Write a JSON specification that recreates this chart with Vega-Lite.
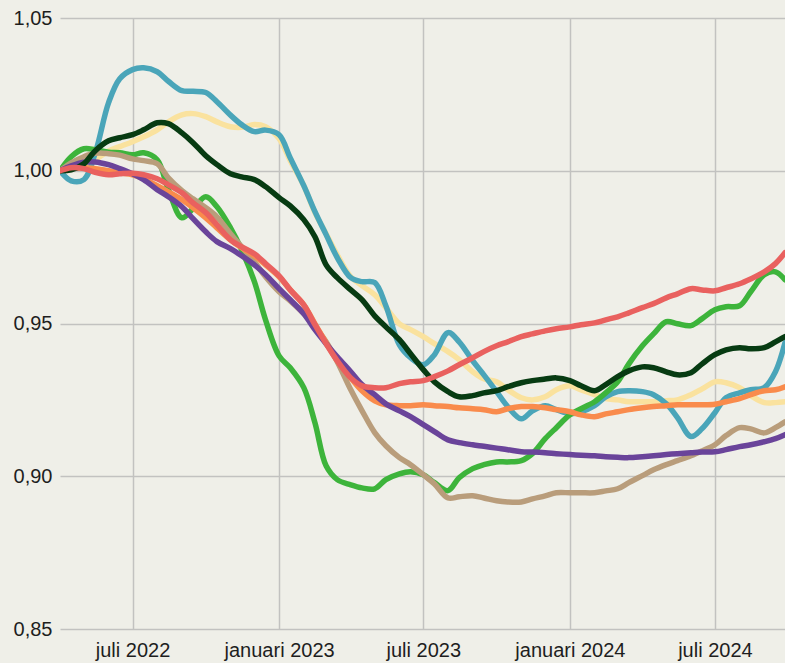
{
"$schema": "https://vega.github.io/schema/vega-lite/v6.json",
"width": 725,
"height": 611,
"autosize": "none",
"padding": {"left": 60, "top": 18, "right": 0, "bottom": 34},
"background": "#efefe8",
"config": {"view": {"stroke": null}},
"data": {
"format": {"parse": {"d": "utc:'%Y-%m-%d'"}},
"values": [
{"d":"2022-04-01","s":"geel","v":1.0000},{"d":"2022-04-15","s":"geel","v":1.0010},{"d":"2022-05-01","s":"geel","v":1.0020},{"d":"2022-05-15","s":"geel","v":1.0036},{"d":"2022-06-01","s":"geel","v":1.0065},{"d":"2022-06-15","s":"geel","v":1.0079},{"d":"2022-07-01","s":"geel","v":1.0095},{"d":"2022-07-15","s":"geel","v":1.0111},{"d":"2022-08-01","s":"geel","v":1.0134},{"d":"2022-08-15","s":"geel","v":1.0160},
{"d":"2022-09-01","s":"geel","v":1.0183},{"d":"2022-09-15","s":"geel","v":1.0187},{"d":"2022-10-01","s":"geel","v":1.0177},{"d":"2022-10-15","s":"geel","v":1.0160},{"d":"2022-11-01","s":"geel","v":1.0144},{"d":"2022-11-15","s":"geel","v":1.0142},{"d":"2022-12-01","s":"geel","v":1.0151},{"d":"2022-12-15","s":"geel","v":1.0144},{"d":"2023-01-01","s":"geel","v":1.0105},{"d":"2023-01-15","s":"geel","v":1.0033},
{"d":"2023-02-01","s":"geel","v":0.9951},{"d":"2023-02-15","s":"geel","v":0.9863},{"d":"2023-03-01","s":"geel","v":0.9794},{"d":"2023-03-15","s":"geel","v":0.9725},{"d":"2023-04-01","s":"geel","v":0.9653},{"d":"2023-04-15","s":"geel","v":0.9624},{"d":"2023-05-01","s":"geel","v":0.9594},{"d":"2023-05-15","s":"geel","v":0.9552},{"d":"2023-06-01","s":"geel","v":0.9499},{"d":"2023-06-15","s":"geel","v":0.9480},
{"d":"2023-07-01","s":"geel","v":0.9457},{"d":"2023-07-15","s":"geel","v":0.9434},{"d":"2023-08-01","s":"geel","v":0.9408},{"d":"2023-08-15","s":"geel","v":0.9382},{"d":"2023-09-01","s":"geel","v":0.9342},{"d":"2023-09-15","s":"geel","v":0.9319},{"d":"2023-10-01","s":"geel","v":0.9309},{"d":"2023-10-15","s":"geel","v":0.9283},{"d":"2023-11-01","s":"geel","v":0.9257},{"d":"2023-11-15","s":"geel","v":0.9250},
{"d":"2023-12-01","s":"geel","v":0.9260},{"d":"2023-12-15","s":"geel","v":0.9283},{"d":"2024-01-01","s":"geel","v":0.9296},{"d":"2024-01-15","s":"geel","v":0.9283},{"d":"2024-02-01","s":"geel","v":0.9267},{"d":"2024-02-15","s":"geel","v":0.9254},{"d":"2024-03-01","s":"geel","v":0.9250},{"d":"2024-03-15","s":"geel","v":0.9244},{"d":"2024-04-01","s":"geel","v":0.9244},{"d":"2024-04-15","s":"geel","v":0.9244},
{"d":"2024-05-01","s":"geel","v":0.9247},{"d":"2024-05-15","s":"geel","v":0.9250},{"d":"2024-06-01","s":"geel","v":0.9267},{"d":"2024-06-15","s":"geel","v":0.9286},{"d":"2024-07-01","s":"geel","v":0.9309},{"d":"2024-07-15","s":"geel","v":0.9306},{"d":"2024-08-01","s":"geel","v":0.9290},{"d":"2024-08-15","s":"geel","v":0.9264},{"d":"2024-09-01","s":"geel","v":0.9241},{"d":"2024-09-15","s":"geel","v":0.9241},{"d":"2024-09-27","s":"geel","v":0.9244},

{"d":"2022-04-01","s":"blauw","v":1.0000},{"d":"2022-04-15","s":"blauw","v":0.9967},{"d":"2022-05-01","s":"blauw","v":0.9971},{"d":"2022-05-15","s":"blauw","v":1.0056},{"d":"2022-06-01","s":"blauw","v":1.0223},{"d":"2022-06-15","s":"blauw","v":1.0301},{"d":"2022-07-01","s":"blauw","v":1.0331},{"d":"2022-07-15","s":"blauw","v":1.0337},{"d":"2022-08-01","s":"blauw","v":1.0324},{"d":"2022-08-15","s":"blauw","v":1.0293},
{"d":"2022-09-01","s":"blauw","v":1.0262},{"d":"2022-09-15","s":"blauw","v":1.0260},{"d":"2022-10-01","s":"blauw","v":1.0256},{"d":"2022-10-15","s":"blauw","v":1.0226},{"d":"2022-11-01","s":"blauw","v":1.0182},{"d":"2022-11-15","s":"blauw","v":1.0151},{"d":"2022-12-01","s":"blauw","v":1.0128},{"d":"2022-12-15","s":"blauw","v":1.0133},{"d":"2023-01-01","s":"blauw","v":1.0118},{"d":"2023-01-15","s":"blauw","v":1.0042},
{"d":"2023-02-01","s":"blauw","v":0.9951},{"d":"2023-02-15","s":"blauw","v":0.9866},{"d":"2023-03-01","s":"blauw","v":0.9791},{"d":"2023-03-15","s":"blauw","v":0.9716},{"d":"2023-04-01","s":"blauw","v":0.9650},{"d":"2023-04-15","s":"blauw","v":0.9637},{"d":"2023-05-01","s":"blauw","v":0.9634},{"d":"2023-05-15","s":"blauw","v":0.9558},{"d":"2023-06-01","s":"blauw","v":0.9430},{"d":"2023-06-15","s":"blauw","v":0.9388},
{"d":"2023-07-01","s":"blauw","v":0.9365},{"d":"2023-07-15","s":"blauw","v":0.9398},{"d":"2023-08-01","s":"blauw","v":0.9470},{"d":"2023-08-15","s":"blauw","v":0.9440},{"d":"2023-09-01","s":"blauw","v":0.9378},{"d":"2023-09-15","s":"blauw","v":0.9332},{"d":"2023-10-01","s":"blauw","v":0.9277},{"d":"2023-10-15","s":"blauw","v":0.9228},{"d":"2023-11-01","s":"blauw","v":0.9188},{"d":"2023-11-15","s":"blauw","v":0.9214},
{"d":"2023-12-01","s":"blauw","v":0.9231},{"d":"2023-12-15","s":"blauw","v":0.9218},{"d":"2024-01-01","s":"blauw","v":0.9205},{"d":"2024-01-15","s":"blauw","v":0.9211},{"d":"2024-02-01","s":"blauw","v":0.9231},{"d":"2024-02-15","s":"blauw","v":0.9260},{"d":"2024-03-01","s":"blauw","v":0.9277},{"d":"2024-03-15","s":"blauw","v":0.9280},{"d":"2024-04-01","s":"blauw","v":0.9277},{"d":"2024-04-15","s":"blauw","v":0.9267},
{"d":"2024-05-01","s":"blauw","v":0.9237},{"d":"2024-05-15","s":"blauw","v":0.9192},{"d":"2024-06-01","s":"blauw","v":0.9130},{"d":"2024-06-15","s":"blauw","v":0.9156},{"d":"2024-07-01","s":"blauw","v":0.9208},{"d":"2024-07-15","s":"blauw","v":0.9257},{"d":"2024-08-01","s":"blauw","v":0.9273},{"d":"2024-08-15","s":"blauw","v":0.9283},{"d":"2024-09-01","s":"blauw","v":0.9290},{"d":"2024-09-15","s":"blauw","v":0.9342},{"d":"2024-09-27","s":"blauw","v":0.9437},

{"d":"2022-04-01","s":"groen","v":1.0000},{"d":"2022-04-15","s":"groen","v":1.0046},{"d":"2022-05-01","s":"groen","v":1.0072},{"d":"2022-05-15","s":"groen","v":1.0069},{"d":"2022-06-01","s":"groen","v":1.0061},{"d":"2022-06-15","s":"groen","v":1.0059},{"d":"2022-07-01","s":"groen","v":1.0052},{"d":"2022-07-15","s":"groen","v":1.0059},{"d":"2022-08-01","s":"groen","v":1.0036},{"d":"2022-08-15","s":"groen","v":0.9938},
{"d":"2022-09-01","s":"groen","v":0.9846},{"d":"2022-09-15","s":"groen","v":0.9876},{"d":"2022-10-01","s":"groen","v":0.9915},{"d":"2022-10-15","s":"groen","v":0.9882},{"d":"2022-11-01","s":"groen","v":0.9813},{"d":"2022-11-15","s":"groen","v":0.9741},{"d":"2022-12-01","s":"groen","v":0.9637},{"d":"2022-12-15","s":"groen","v":0.9512},{"d":"2023-01-01","s":"groen","v":0.9394},{"d":"2023-01-15","s":"groen","v":0.9355},
{"d":"2023-02-01","s":"groen","v":0.9290},{"d":"2023-02-15","s":"groen","v":0.9175},{"d":"2023-03-01","s":"groen","v":0.9034},{"d":"2023-03-15","s":"groen","v":0.8989},{"d":"2023-04-01","s":"groen","v":0.8972},{"d":"2023-04-15","s":"groen","v":0.8962},{"d":"2023-05-01","s":"groen","v":0.8959},{"d":"2023-05-15","s":"groen","v":0.8989},{"d":"2023-06-01","s":"groen","v":0.9008},{"d":"2023-06-15","s":"groen","v":0.9015},
{"d":"2023-07-01","s":"groen","v":0.9005},{"d":"2023-07-15","s":"groen","v":0.8979},{"d":"2023-08-01","s":"groen","v":0.8953},{"d":"2023-08-15","s":"groen","v":0.8995},{"d":"2023-09-01","s":"groen","v":0.9025},{"d":"2023-09-15","s":"groen","v":0.9038},{"d":"2023-10-01","s":"groen","v":0.9047},{"d":"2023-10-15","s":"groen","v":0.9047},{"d":"2023-11-01","s":"groen","v":0.9051},{"d":"2023-11-15","s":"groen","v":0.9074},
{"d":"2023-12-01","s":"groen","v":0.9123},{"d":"2023-12-15","s":"groen","v":0.9159},{"d":"2024-01-01","s":"groen","v":0.9201},{"d":"2024-01-15","s":"groen","v":0.9221},{"d":"2024-02-01","s":"groen","v":0.9244},{"d":"2024-02-15","s":"groen","v":0.9273},{"d":"2024-03-01","s":"groen","v":0.9309},{"d":"2024-03-15","s":"groen","v":0.9368},{"d":"2024-04-01","s":"groen","v":0.9427},{"d":"2024-04-15","s":"groen","v":0.9466},
{"d":"2024-05-01","s":"groen","v":0.9506},{"d":"2024-05-15","s":"groen","v":0.9499},{"d":"2024-06-01","s":"groen","v":0.9493},{"d":"2024-06-15","s":"groen","v":0.9516},{"d":"2024-07-01","s":"groen","v":0.9545},{"d":"2024-07-15","s":"groen","v":0.9555},{"d":"2024-08-01","s":"groen","v":0.9558},{"d":"2024-08-15","s":"groen","v":0.9604},{"d":"2024-09-01","s":"groen","v":0.9660},{"d":"2024-09-15","s":"groen","v":0.9669},{"d":"2024-09-27","s":"groen","v":0.9643},

{"d":"2022-04-01","s":"beige","v":1.0000},{"d":"2022-04-15","s":"beige","v":1.0026},{"d":"2022-05-01","s":"beige","v":1.0046},{"d":"2022-05-15","s":"beige","v":1.0057},{"d":"2022-06-01","s":"beige","v":1.0056},{"d":"2022-06-15","s":"beige","v":1.0051},{"d":"2022-07-01","s":"beige","v":1.0039},{"d":"2022-07-15","s":"beige","v":1.0033},{"d":"2022-08-01","s":"beige","v":1.0023},{"d":"2022-08-15","s":"beige","v":0.9977},
{"d":"2022-09-01","s":"beige","v":0.9935},{"d":"2022-09-15","s":"beige","v":0.9908},{"d":"2022-10-01","s":"beige","v":0.9879},{"d":"2022-10-15","s":"beige","v":0.9849},{"d":"2022-11-01","s":"beige","v":0.9794},{"d":"2022-11-15","s":"beige","v":0.9751},{"d":"2022-12-01","s":"beige","v":0.9702},{"d":"2022-12-15","s":"beige","v":0.9653},{"d":"2023-01-01","s":"beige","v":0.9604},{"d":"2023-01-15","s":"beige","v":0.9574},
{"d":"2023-02-01","s":"beige","v":0.9532},{"d":"2023-02-15","s":"beige","v":0.9489},{"d":"2023-03-01","s":"beige","v":0.9440},{"d":"2023-03-15","s":"beige","v":0.9375},{"d":"2023-04-01","s":"beige","v":0.9283},{"d":"2023-04-15","s":"beige","v":0.9215},{"d":"2023-05-01","s":"beige","v":0.9143},{"d":"2023-05-15","s":"beige","v":0.9100},{"d":"2023-06-01","s":"beige","v":0.9061},{"d":"2023-06-15","s":"beige","v":0.9038},
{"d":"2023-07-01","s":"beige","v":0.9005},{"d":"2023-07-15","s":"beige","v":0.8975},{"d":"2023-08-01","s":"beige","v":0.8929},{"d":"2023-08-15","s":"beige","v":0.8933},{"d":"2023-09-01","s":"beige","v":0.8936},{"d":"2023-09-15","s":"beige","v":0.8929},{"d":"2023-10-01","s":"beige","v":0.8920},{"d":"2023-10-15","s":"beige","v":0.8916},{"d":"2023-11-01","s":"beige","v":0.8916},{"d":"2023-11-15","s":"beige","v":0.8926},
{"d":"2023-12-01","s":"beige","v":0.8936},{"d":"2023-12-15","s":"beige","v":0.8946},{"d":"2024-01-01","s":"beige","v":0.8946},{"d":"2024-01-15","s":"beige","v":0.8946},{"d":"2024-02-01","s":"beige","v":0.8946},{"d":"2024-02-15","s":"beige","v":0.8952},{"d":"2024-03-01","s":"beige","v":0.8959},{"d":"2024-03-15","s":"beige","v":0.8979},{"d":"2024-04-01","s":"beige","v":0.9002},{"d":"2024-04-15","s":"beige","v":0.9021},
{"d":"2024-05-01","s":"beige","v":0.9038},{"d":"2024-05-15","s":"beige","v":0.9051},{"d":"2024-06-01","s":"beige","v":0.9067},{"d":"2024-06-15","s":"beige","v":0.9083},{"d":"2024-07-01","s":"beige","v":0.9103},{"d":"2024-07-15","s":"beige","v":0.9133},{"d":"2024-08-01","s":"beige","v":0.9159},{"d":"2024-08-15","s":"beige","v":0.9155},{"d":"2024-09-01","s":"beige","v":0.9142},{"d":"2024-09-15","s":"beige","v":0.9159},{"d":"2024-09-27","s":"beige","v":0.9178},

{"d":"2022-04-01","s":"oranje","v":1.0000},{"d":"2022-04-15","s":"oranje","v":1.0007},{"d":"2022-05-01","s":"oranje","v":1.0010},{"d":"2022-05-15","s":"oranje","v":1.0007},{"d":"2022-06-01","s":"oranje","v":1.0000},{"d":"2022-06-15","s":"oranje","v":0.9993},{"d":"2022-07-01","s":"oranje","v":0.9987},{"d":"2022-07-15","s":"oranje","v":0.9974},{"d":"2022-08-01","s":"oranje","v":0.9951},{"d":"2022-08-15","s":"oranje","v":0.9931},
{"d":"2022-09-01","s":"oranje","v":0.9905},{"d":"2022-09-15","s":"oranje","v":0.9879},{"d":"2022-10-01","s":"oranje","v":0.9846},{"d":"2022-10-15","s":"oranje","v":0.9813},{"d":"2022-11-01","s":"oranje","v":0.9774},{"d":"2022-11-15","s":"oranje","v":0.9748},{"d":"2022-12-01","s":"oranje","v":0.9722},{"d":"2022-12-15","s":"oranje","v":0.9692},{"d":"2023-01-01","s":"oranje","v":0.9653},{"d":"2023-01-15","s":"oranje","v":0.9610},
{"d":"2023-02-01","s":"oranje","v":0.9561},{"d":"2023-02-15","s":"oranje","v":0.9499},{"d":"2023-03-01","s":"oranje","v":0.9437},{"d":"2023-03-15","s":"oranje","v":0.9378},{"d":"2023-04-01","s":"oranje","v":0.9322},{"d":"2023-04-15","s":"oranje","v":0.9280},{"d":"2023-05-01","s":"oranje","v":0.9247},{"d":"2023-05-15","s":"oranje","v":0.9234},{"d":"2023-06-01","s":"oranje","v":0.9231},{"d":"2023-06-15","s":"oranje","v":0.9231},
{"d":"2023-07-01","s":"oranje","v":0.9234},{"d":"2023-07-15","s":"oranje","v":0.9231},{"d":"2023-08-01","s":"oranje","v":0.9228},{"d":"2023-08-15","s":"oranje","v":0.9224},{"d":"2023-09-01","s":"oranje","v":0.9221},{"d":"2023-09-15","s":"oranje","v":0.9218},{"d":"2023-10-01","s":"oranje","v":0.9211},{"d":"2023-10-15","s":"oranje","v":0.9221},{"d":"2023-11-01","s":"oranje","v":0.9228},{"d":"2023-11-15","s":"oranje","v":0.9228},
{"d":"2023-12-01","s":"oranje","v":0.9224},{"d":"2023-12-15","s":"oranje","v":0.9218},{"d":"2024-01-01","s":"oranje","v":0.9211},{"d":"2024-01-15","s":"oranje","v":0.9201},{"d":"2024-02-01","s":"oranje","v":0.9195},{"d":"2024-02-15","s":"oranje","v":0.9204},{"d":"2024-03-01","s":"oranje","v":0.9211},{"d":"2024-03-15","s":"oranje","v":0.9218},{"d":"2024-04-01","s":"oranje","v":0.9224},{"d":"2024-04-15","s":"oranje","v":0.9228},
{"d":"2024-05-01","s":"oranje","v":0.9231},{"d":"2024-05-15","s":"oranje","v":0.9234},{"d":"2024-06-01","s":"oranje","v":0.9234},{"d":"2024-06-15","s":"oranje","v":0.9234},{"d":"2024-07-01","s":"oranje","v":0.9236},{"d":"2024-07-15","s":"oranje","v":0.9244},{"d":"2024-08-01","s":"oranje","v":0.9254},{"d":"2024-08-15","s":"oranje","v":0.9267},{"d":"2024-09-01","s":"oranje","v":0.9280},{"d":"2024-09-15","s":"oranje","v":0.9283},{"d":"2024-09-27","s":"oranje","v":0.9293},

{"d":"2022-04-01","s":"paars","v":1.0000},{"d":"2022-04-15","s":"paars","v":1.0016},{"d":"2022-05-01","s":"paars","v":1.0028},{"d":"2022-05-15","s":"paars","v":1.0029},{"d":"2022-06-01","s":"paars","v":1.0020},{"d":"2022-06-15","s":"paars","v":1.0007},{"d":"2022-07-01","s":"paars","v":0.9990},{"d":"2022-07-15","s":"paars","v":0.9971},{"d":"2022-08-01","s":"paars","v":0.9938},{"d":"2022-08-15","s":"paars","v":0.9915},
{"d":"2022-09-01","s":"paars","v":0.9882},{"d":"2022-09-15","s":"paars","v":0.9843},{"d":"2022-10-01","s":"paars","v":0.9800},{"d":"2022-10-15","s":"paars","v":0.9768},{"d":"2022-11-01","s":"paars","v":0.9745},{"d":"2022-11-15","s":"paars","v":0.9722},{"d":"2022-12-01","s":"paars","v":0.9692},{"d":"2022-12-15","s":"paars","v":0.9660},{"d":"2023-01-01","s":"paars","v":0.9614},{"d":"2023-01-15","s":"paars","v":0.9578},
{"d":"2023-02-01","s":"paars","v":0.9532},{"d":"2023-02-15","s":"paars","v":0.9480},{"d":"2023-03-01","s":"paars","v":0.9434},{"d":"2023-03-15","s":"paars","v":0.9391},{"d":"2023-04-01","s":"paars","v":0.9342},{"d":"2023-04-15","s":"paars","v":0.9300},{"d":"2023-05-01","s":"paars","v":0.9267},{"d":"2023-05-15","s":"paars","v":0.9237},{"d":"2023-06-01","s":"paars","v":0.9214},{"d":"2023-06-15","s":"paars","v":0.9195},
{"d":"2023-07-01","s":"paars","v":0.9169},{"d":"2023-07-15","s":"paars","v":0.9146},{"d":"2023-08-01","s":"paars","v":0.9119},{"d":"2023-08-15","s":"paars","v":0.9110},{"d":"2023-09-01","s":"paars","v":0.9103},{"d":"2023-09-15","s":"paars","v":0.9098},{"d":"2023-10-01","s":"paars","v":0.9092},{"d":"2023-10-15","s":"paars","v":0.9087},{"d":"2023-11-01","s":"paars","v":0.9080},{"d":"2023-11-15","s":"paars","v":0.9079},
{"d":"2023-12-01","s":"paars","v":0.9077},{"d":"2023-12-15","s":"paars","v":0.9074},{"d":"2024-01-01","s":"paars","v":0.9071},{"d":"2024-01-15","s":"paars","v":0.9069},{"d":"2024-02-01","s":"paars","v":0.9067},{"d":"2024-02-15","s":"paars","v":0.9064},{"d":"2024-03-01","s":"paars","v":0.9062},{"d":"2024-03-15","s":"paars","v":0.9061},{"d":"2024-04-01","s":"paars","v":0.9064},{"d":"2024-04-15","s":"paars","v":0.9067},
{"d":"2024-05-01","s":"paars","v":0.9071},{"d":"2024-05-15","s":"paars","v":0.9074},{"d":"2024-06-01","s":"paars","v":0.9077},{"d":"2024-06-15","s":"paars","v":0.9079},{"d":"2024-07-01","s":"paars","v":0.9080},{"d":"2024-07-15","s":"paars","v":0.9087},{"d":"2024-08-01","s":"paars","v":0.9097},{"d":"2024-08-15","s":"paars","v":0.9103},{"d":"2024-09-01","s":"paars","v":0.9113},{"d":"2024-09-15","s":"paars","v":0.9123},{"d":"2024-09-27","s":"paars","v":0.9136},

{"d":"2022-04-01","s":"donkergroen","v":1.0000},{"d":"2022-04-15","s":"donkergroen","v":1.0003},{"d":"2022-05-01","s":"donkergroen","v":1.0023},{"d":"2022-05-15","s":"donkergroen","v":1.0065},{"d":"2022-06-01","s":"donkergroen","v":1.0098},{"d":"2022-06-15","s":"donkergroen","v":1.0108},{"d":"2022-07-01","s":"donkergroen","v":1.0118},{"d":"2022-07-15","s":"donkergroen","v":1.0134},{"d":"2022-08-01","s":"donkergroen","v":1.0157},{"d":"2022-08-15","s":"donkergroen","v":1.0154},
{"d":"2022-09-01","s":"donkergroen","v":1.0124},{"d":"2022-09-15","s":"donkergroen","v":1.0092},{"d":"2022-10-01","s":"donkergroen","v":1.0049},{"d":"2022-10-15","s":"donkergroen","v":1.0020},{"d":"2022-11-01","s":"donkergroen","v":0.9990},{"d":"2022-11-15","s":"donkergroen","v":0.9980},{"d":"2022-12-01","s":"donkergroen","v":0.9971},{"d":"2022-12-15","s":"donkergroen","v":0.9948},{"d":"2023-01-01","s":"donkergroen","v":0.9912},{"d":"2023-01-15","s":"donkergroen","v":0.9885},
{"d":"2023-02-01","s":"donkergroen","v":0.9840},{"d":"2023-02-15","s":"donkergroen","v":0.9784},{"d":"2023-03-01","s":"donkergroen","v":0.9692},{"d":"2023-03-15","s":"donkergroen","v":0.9650},{"d":"2023-04-01","s":"donkergroen","v":0.9610},{"d":"2023-04-15","s":"donkergroen","v":0.9578},{"d":"2023-05-01","s":"donkergroen","v":0.9525},{"d":"2023-05-15","s":"donkergroen","v":0.9489},{"d":"2023-06-01","s":"donkergroen","v":0.9447},{"d":"2023-06-15","s":"donkergroen","v":0.9401},
{"d":"2023-07-01","s":"donkergroen","v":0.9349},{"d":"2023-07-15","s":"donkergroen","v":0.9309},{"d":"2023-08-01","s":"donkergroen","v":0.9277},{"d":"2023-08-15","s":"donkergroen","v":0.9260},{"d":"2023-09-01","s":"donkergroen","v":0.9264},{"d":"2023-09-15","s":"donkergroen","v":0.9273},{"d":"2023-10-01","s":"donkergroen","v":0.9280},{"d":"2023-10-15","s":"donkergroen","v":0.9293},{"d":"2023-11-01","s":"donkergroen","v":0.9306},{"d":"2023-11-15","s":"donkergroen","v":0.9313},
{"d":"2023-12-01","s":"donkergroen","v":0.9318},{"d":"2023-12-15","s":"donkergroen","v":0.9322},{"d":"2024-01-01","s":"donkergroen","v":0.9313},{"d":"2024-01-15","s":"donkergroen","v":0.9296},{"d":"2024-02-01","s":"donkergroen","v":0.9280},{"d":"2024-02-15","s":"donkergroen","v":0.9300},{"d":"2024-03-01","s":"donkergroen","v":0.9326},{"d":"2024-03-15","s":"donkergroen","v":0.9345},{"d":"2024-04-01","s":"donkergroen","v":0.9358},{"d":"2024-04-15","s":"donkergroen","v":0.9355},
{"d":"2024-05-01","s":"donkergroen","v":0.9342},{"d":"2024-05-15","s":"donkergroen","v":0.9332},{"d":"2024-06-01","s":"donkergroen","v":0.9339},{"d":"2024-06-15","s":"donkergroen","v":0.9368},{"d":"2024-07-01","s":"donkergroen","v":0.9398},{"d":"2024-07-15","s":"donkergroen","v":0.9414},{"d":"2024-08-01","s":"donkergroen","v":0.9421},{"d":"2024-08-15","s":"donkergroen","v":0.9417},{"d":"2024-09-01","s":"donkergroen","v":0.9421},{"d":"2024-09-15","s":"donkergroen","v":0.9440},{"d":"2024-09-27","s":"donkergroen","v":0.9457},

{"d":"2022-04-01","s":"rood","v":1.0000},{"d":"2022-04-15","s":"rood","v":1.0010},{"d":"2022-05-01","s":"rood","v":1.0007},{"d":"2022-05-15","s":"rood","v":0.9995},{"d":"2022-06-01","s":"rood","v":0.9987},{"d":"2022-06-15","s":"rood","v":0.9990},{"d":"2022-07-01","s":"rood","v":0.9992},{"d":"2022-07-15","s":"rood","v":0.9987},{"d":"2022-08-01","s":"rood","v":0.9974},{"d":"2022-08-15","s":"rood","v":0.9954},
{"d":"2022-09-01","s":"rood","v":0.9928},{"d":"2022-09-15","s":"rood","v":0.9895},{"d":"2022-10-01","s":"rood","v":0.9863},{"d":"2022-10-15","s":"rood","v":0.9823},{"d":"2022-11-01","s":"rood","v":0.9774},{"d":"2022-11-15","s":"rood","v":0.9751},{"d":"2022-12-01","s":"rood","v":0.9728},{"d":"2022-12-15","s":"rood","v":0.9696},{"d":"2023-01-01","s":"rood","v":0.9656},{"d":"2023-01-15","s":"rood","v":0.9610},
{"d":"2023-02-01","s":"rood","v":0.9561},{"d":"2023-02-15","s":"rood","v":0.9496},{"d":"2023-03-01","s":"rood","v":0.9434},{"d":"2023-03-15","s":"rood","v":0.9378},{"d":"2023-04-01","s":"rood","v":0.9322},{"d":"2023-04-15","s":"rood","v":0.9296},{"d":"2023-05-01","s":"rood","v":0.9290},{"d":"2023-05-15","s":"rood","v":0.9290},{"d":"2023-06-01","s":"rood","v":0.9303},{"d":"2023-06-15","s":"rood","v":0.9309},
{"d":"2023-07-01","s":"rood","v":0.9313},{"d":"2023-07-15","s":"rood","v":0.9326},{"d":"2023-08-01","s":"rood","v":0.9345},{"d":"2023-08-15","s":"rood","v":0.9365},{"d":"2023-09-01","s":"rood","v":0.9388},{"d":"2023-09-15","s":"rood","v":0.9408},{"d":"2023-10-01","s":"rood","v":0.9427},{"d":"2023-10-15","s":"rood","v":0.9440},{"d":"2023-11-01","s":"rood","v":0.9457},{"d":"2023-11-15","s":"rood","v":0.9466},
{"d":"2023-12-01","s":"rood","v":0.9476},{"d":"2023-12-15","s":"rood","v":0.9483},{"d":"2024-01-01","s":"rood","v":0.9489},{"d":"2024-01-15","s":"rood","v":0.9496},{"d":"2024-02-01","s":"rood","v":0.9502},{"d":"2024-02-15","s":"rood","v":0.9512},{"d":"2024-03-01","s":"rood","v":0.9522},{"d":"2024-03-15","s":"rood","v":0.9535},{"d":"2024-04-01","s":"rood","v":0.9552},{"d":"2024-04-15","s":"rood","v":0.9565},
{"d":"2024-05-01","s":"rood","v":0.9584},{"d":"2024-05-15","s":"rood","v":0.9597},{"d":"2024-06-01","s":"rood","v":0.9614},{"d":"2024-06-15","s":"rood","v":0.9610},{"d":"2024-07-01","s":"rood","v":0.9607},{"d":"2024-07-15","s":"rood","v":0.9617},{"d":"2024-08-01","s":"rood","v":0.9630},{"d":"2024-08-15","s":"rood","v":0.9646},{"d":"2024-09-01","s":"rood","v":0.9669},{"d":"2024-09-15","s":"rood","v":0.9696},{"d":"2024-09-27","s":"rood","v":0.9732}
]
},
"mark": {"type": "line", "interpolate": "catmull-rom", "strokeWidth": 5.5, "clip": true, "strokeCap": "round", "strokeJoin": "round"},
"encoding": {
"x": {
"field": "d", "type": "temporal",
"scale": {"type": "utc", "domain": [{"year": 2022, "month": 4, "date": 1, "utc": true}, {"year": 2024, "month": 9, "date": 27, "utc": true}]},
"axis": {
"title": null,
"values": [{"year": 2022, "month": 7, "date": 1, "utc": true}, {"year": 2023, "month": 1, "date": 1, "utc": true}, {"year": 2023, "month": 7, "date": 1, "utc": true}, {"year": 2024, "month": 1, "date": 1, "utc": true}, {"year": 2024, "month": 7, "date": 1, "utc": true}],
"labelExpr": "(utcmonth(datum.value) == 0 ? 'januari ' : 'juli ') + utcyear(datum.value)",
"grid": true, "gridColor": "#c2c2c0", "gridWidth": 1.5,
"domain": false, "ticks": false, "tickSize": 0,
"labelFont": "Liberation Sans", "labelFontSize": 20, "labelColor": "#1e1e1e", "labelPadding": 11,
"labelOverlap": false, "labelFlush": false
}
},
"y": {
"field": "v", "type": "quantitative",
"scale": {"domain": [0.85, 1.05], "nice": false, "zero": false},
"axis": {
"title": null,
"values": [0.85, 0.9, 0.95, 1.0, 1.05],
"labelExpr": "replace(format(datum.value, '.2f'), '.', ',')",
"grid": true, "gridColor": "#c2c2c0", "gridWidth": 1.5,
"domain": false, "ticks": false, "tickSize": 0,
"labelFont": "Liberation Sans", "labelFontSize": 20, "labelColor": "#1e1e1e", "labelPadding": 8,
"labelOverlap": false, "labelFlush": false
}
},
"color": {
"field": "s", "type": "nominal", "legend": null,
"scale": {
"domain": ["geel", "blauw", "groen", "beige", "oranje", "paars", "donkergroen", "rood"],
"range": ["#fae29e", "#4aa5b9", "#3db43b", "#b99d7b", "#f98b4c", "#6a449a", "#073b12", "#e9615f"]
}
}
}
}
